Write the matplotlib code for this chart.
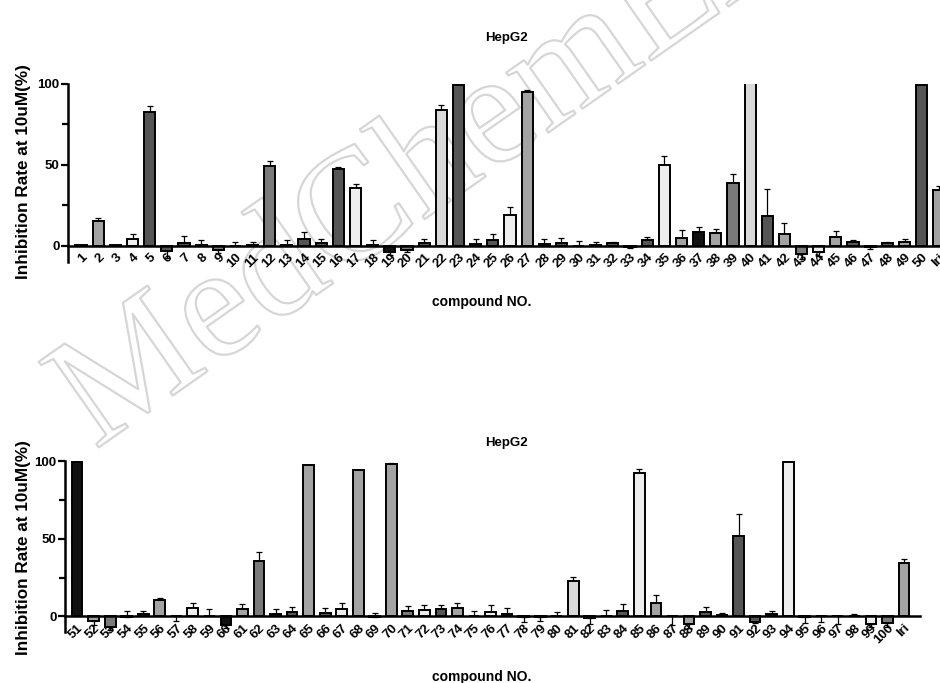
# HepG2 inhibition screen, two panels (compounds 1-50 and 51-100, plus Iri)

import matplotlib
matplotlib.use("Agg")
import matplotlib.pyplot as plt
import matplotlib.patheffects as pe
from matplotlib.ticker import MultipleLocator

plt.rcParams['font.family'] = ['Liberation Sans', 'DejaVu Sans']
plt.rcParams['font.weight'] = 'bold'

# ------------------------------------------------------------
# data (err > 0 drawn up, err < 0 drawn down)
# ------------------------------------------------------------
top_labels = [str(i) for i in range(1, 51)] + ['Iri']
top_values = [0.3, 15.5, 0.5, 4.0, 82.4, -3.3, 1.9, 0.6, -2.7, 0.0,
              0.4, 49.4, 0.2, 4.1, 1.5, 47.3, 36.0, 0.3, -3.7, -2.7,
              2.0, 84.1, 99.2, 1.2, 3.5, 19.0, 95.0, 1.0, 1.5, -0.4,
              0.2, 2.0, -0.6, 3.7, 50.0, 4.8, 8.5, 8.0, 39.0, 105.0,
              18.4, 7.4, -4.8, -3.9, 5.6, 2.3, -1.0, 2.0, 2.3, 99.2,
              34.5]
top_err = [0.3, 1.5, 0.3, 3.0, 3.8, -4.0, 4.3, 3.0, -1.6, 2.5,
           2.2, 3.3, 3.3, 4.6, 3.0, 1.3, 2.2, 3.2, -1.7, -1.3,
           2.1, 3.1, 0.4, 2.9, 3.9, 5.0, 1.0, 3.5, 3.5, 3.4,
           2.3, 0.5, -0.6, 1.5, 5.8, 5.2, 3.3, 2.5, 5.6, 0.0,
           16.5, 6.6, -3.5, -2.3, 3.7, 1.0, -1.0, 0.5, 1.7, 0.4,
           2.5]
top_fill = ['d', 'm', 'd', 'w', 'd', 'd', 'd', 'w', 'g', 'w',
            'w', 'g', 'w', 'd', 'd', 'd', 'w', 'w', 'k', 'g',
            'd', 'l', 'd', 'w', 'd', 'w', 'm', 'w', 'd', 'w',
            'w', 'd', 'd', 'd', 'w', 'm', 'k', 'm', 'g', 'l',
            'd', 'm', 'g', 'w', 'm', 'd', 'g', 'd', 'm', 'd',
            'm']

bottom_labels = [str(i) for i in range(51, 101)] + ['Iri']
bottom_values = [99.5, -3.2, -7.0, -0.5, 1.3, 10.3, 0.2, 5.4, 0.5, -5.6,
                 4.7, 35.7, 1.9, 3.0, 97.2, 2.4, 4.7, 94.0, -0.5, 98.3,
                 3.2, 3.9, 4.9, 5.6, 0.5, 2.6, 1.9, -0.5, -0.5, 0.2,
                 22.8, -1.0, 0.2, 3.7, 92.5, 8.6, 0.0, -4.7, 2.8, 1.0,
                 51.6, -3.7, 1.5, 99.4, -0.5, 0.3, 0.3, 0.3, -4.9, -4.1,
                 34.4]
bottom_err = [0.3, -2.2, -1.4, 3.9, 2.1, 1.5, -3.0, 3.2, 4.2, -2.1,
              3.3, 6.0, 2.8, 2.8, 0.4, 3.0, 3.9, 0.4, 2.5, 0.3,
              3.7, 3.4, 2.4, 2.8, 2.7, 4.7, 3.3, -2.9, -2.3, 2.4,
              2.8, -3.9, 3.9, 4.0, 2.5, 5.2, -5.6, -2.8, 3.0, 1.2,
              14.0, -0.3, 1.7, 0.3, -3.4, -3.7, -5.0, 1.2, -1.8, -2.6,
              2.8]
bottom_fill = ['k', 'm', 'g', 'w', 'w', 'm', 'w', 'w', 'w', 'k',
               'm', 'g', 'd', 'd', 'm', 'd', 'w', 'm', 'w', 'm',
               'g', 'w', 'd', 'm', 'w', 'w', 'd', 'w', 'w', 'w',
               'l', 'd', 'w', 'd', 'w', 'm', 'w', 'm', 'd', 'w',
               'd', 'd', 'd', 'w', 'w', 'w', 'w', 'w', 'w', 'g',
               'm']

# grey levels used by the bars
shades = {'k': '#111111', 'd': '#555555', 'g': '#7a7a7a',
          'm': '#a3a3a3', 'l': '#d9d9d9', 'w': '#eeeeee'}


def draw_panel(ax, labels, values, errs, fills, xlim):
    x = list(range(len(values)))
    lower = [max(-e, 0) for e in errs]
    upper = [max(e, 0) for e in errs]
    ax.bar(x, values, width=0.65, color=[shades[c] for c in fills],
           edgecolor='black', linewidth=1.4, zorder=2)
    ax.errorbar(x, values, yerr=[lower, upper], fmt='none', ecolor='black',
                elinewidth=0.9, capsize=2.5, capthick=0.9, zorder=1)

    ax.set_xlim(*xlim)
    ax.set_ylim(-10, 100)
    ax.patch.set_visible(False)

    # prism-like axes: y spine from -10 to 100, x spine sitting on zero
    for side in ['top', 'right']:
        ax.spines[side].set_visible(False)
    ax.spines['left'].set_bounds(-10, 100)
    ax.spines['left'].set_linewidth(1.8)
    ax.spines['bottom'].set_position(('data', 0))
    ax.spines['bottom'].set_linewidth(1.8)

    ax.set_yticks([0, 50, 100])
    ax.yaxis.set_minor_locator(MultipleLocator(25))
    ax.tick_params(axis='y', which='major', length=5, width=1.6,
                   labelsize=9.5, pad=1)
    ax.tick_params(axis='y', which='minor', length=4, width=1.6)

    ax.set_xticks(x)
    ax.set_xticklabels(labels, rotation=45, ha='right', va='top',
                       rotation_mode='anchor', fontsize=9.5)
    ax.tick_params(axis='x', length=0, pad=4)
    for lab in ax.get_yticklabels():
        lab.set_fontweight('bold')


fig = plt.figure(figsize=(9.4, 6.83), dpi=100)

# faint vendor watermark behind both panels
wm = fig.text(95 / 940, 1 - 450 / 683, 'MedChemExpress', rotation=35,
              rotation_mode='anchor', ha='left', va='baseline',
              fontsize=115, family='Liberation Serif', fontweight='normal',
              color='none', zorder=-1)
wm.set_path_effects([pe.withStroke(linewidth=1.6, foreground='#d6d6d6')])

# ------------------------------------------------------------
# upper panel: axes runs a little past the right border (clipped)
# ------------------------------------------------------------
ax1 = fig.add_axes([68 / 940, 1 - 262 / 683, 888 / 940, 178 / 683])
draw_panel(ax1, top_labels, top_values, top_err, top_fill, (-0.76, 51.0))

# ------------------------------------------------------------
# lower panel
# ------------------------------------------------------------
ax2 = fig.add_axes([65 / 940, 1 - 632 / 683, 855 / 940, 171 / 683])
draw_panel(ax2, bottom_labels, bottom_values, bottom_err, bottom_fill,
           (-0.73, 50.97))

# titles and axis labels placed where they sit on the page
for ycen in [38, 443]:
    fig.text(506 / 940, 1 - ycen / 683, 'HepG2', ha='center', va='center',
             fontsize=9.5, fontweight='bold')
for ycen, ylab in [(302, 172), (677, 548)]:
    fig.text(482 / 940, 1 - ycen / 683, 'compound NO.', ha='center',
             va='center', fontsize=10, fontweight='bold')
    fig.text(24 / 940, 1 - ylab / 683, 'Inhibition Rate at 10uM(%)',
             ha='center', va='center', rotation=90, fontsize=12.3,
             fontweight='bold')

fig.savefig('out.png', dpi=100)
